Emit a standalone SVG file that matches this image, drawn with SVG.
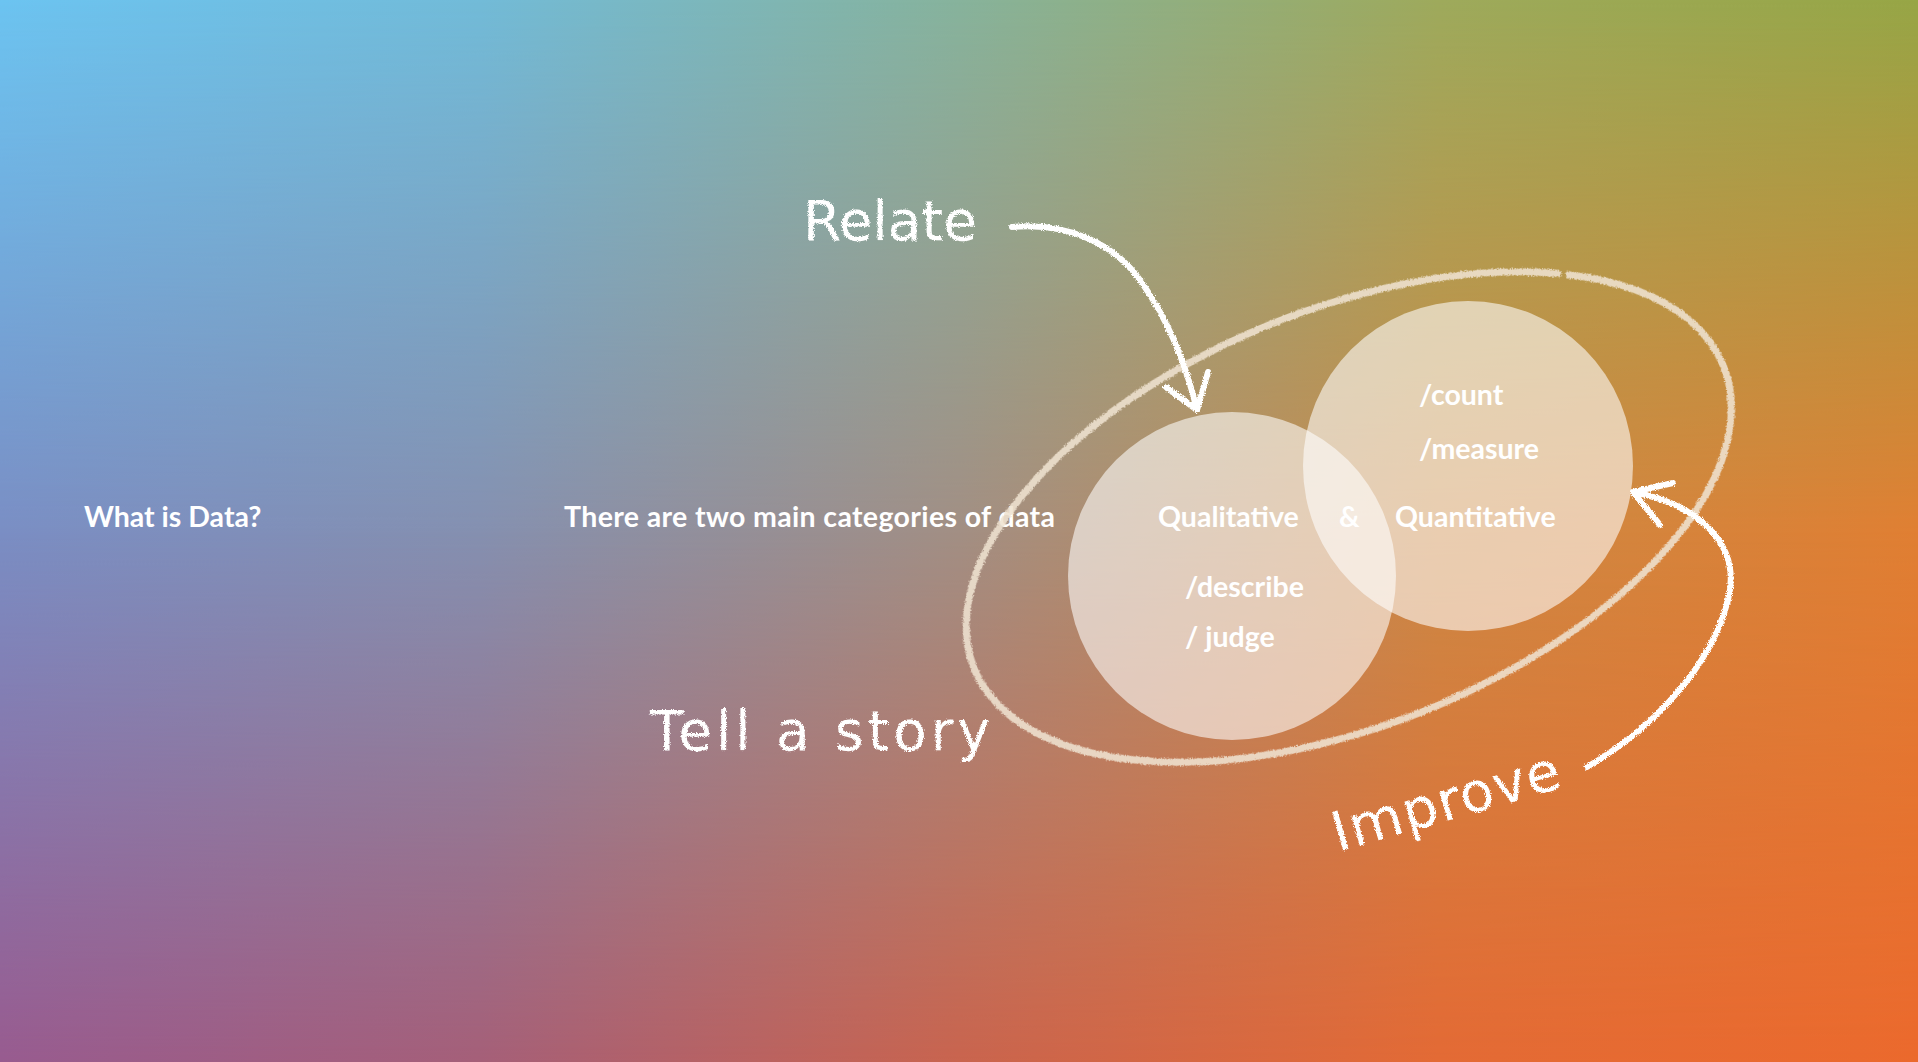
<svg xmlns="http://www.w3.org/2000/svg" width="1918" height="1062" viewBox="0 0 1918 1062">
<defs>
<style>
.t{font-family:Lato,"Source Sans Pro","Open Sans",sans-serif;font-weight:700;font-size:28.5px;fill:#ffffff}
.h{font-family:"DejaVu Sans",sans-serif;font-size:55px;fill:#ffffff}
.chalk{fill:none;stroke:#ffffff;stroke-width:6;stroke-linecap:round;stroke-linejoin:round}
.ring{fill:none;stroke:#efe2d0;stroke-opacity:0.88;stroke-width:7;stroke-linecap:round}
.disc{fill:#ffffff;fill-opacity:0.58}
</style>
<linearGradient id="gTop" x1="0" y1="0" x2="1" y2="0">
<stop offset="0" stop-color="#6cc4f1"/>
<stop offset="0.25" stop-color="#72bbd8"/>
<stop offset="0.5" stop-color="#87b39c"/>
<stop offset="0.75" stop-color="#9eaa5c"/>
<stop offset="1" stop-color="#97a646"/>
</linearGradient>
<linearGradient id="gMid" x1="0" y1="0" x2="1" y2="0">
<stop offset="0" stop-color="#7a8ec4"/>
<stop offset="0.25" stop-color="#8590b0"/>
<stop offset="0.5" stop-color="#a28f84"/>
<stop offset="0.75" stop-color="#cc8944"/>
<stop offset="1" stop-color="#e07f33"/>
</linearGradient>
<linearGradient id="gBot" x1="0" y1="0" x2="1" y2="0">
<stop offset="0" stop-color="#985b8f"/>
<stop offset="0.25" stop-color="#a55f78"/>
<stop offset="0.5" stop-color="#c9644e"/>
<stop offset="0.75" stop-color="#e36a35"/>
<stop offset="1" stop-color="#eb692d"/>
</linearGradient>
<linearGradient id="mMidG" x1="0" y1="0" x2="0" y2="1">
<stop offset="0" stop-color="#000"/>
<stop offset="0.5" stop-color="#fff"/>
<stop offset="1" stop-color="#fff"/>
</linearGradient>
<linearGradient id="mBotG" x1="0" y1="0" x2="0" y2="1">
<stop offset="0" stop-color="#000"/>
<stop offset="0.5" stop-color="#000"/>
<stop offset="1" stop-color="#fff"/>
</linearGradient>
<mask id="mMid" maskUnits="userSpaceOnUse" x="0" y="0" width="1918" height="1062">
<rect x="0" y="0" width="1918" height="1062" fill="url(#mMidG)"/>
</mask>
<mask id="mBot" maskUnits="userSpaceOnUse" x="0" y="0" width="1918" height="1062">
<rect x="0" y="0" width="1918" height="1062" fill="url(#mBotG)"/>
</mask>
<filter id="rough" x="-5%" y="-5%" width="110%" height="110%">
<feTurbulence type="fractalNoise" baseFrequency="0.9" numOctaves="2" seed="3" result="n"/>
<feDisplacementMap in="SourceGraphic" in2="n" scale="4" xChannelSelector="R" yChannelSelector="G"/>
</filter>
</defs>

<g id="background">
<rect x="0" y="0" width="1918" height="1062" fill="url(#gTop)"/>
<rect x="0" y="0" width="1918" height="1062" fill="url(#gMid)" mask="url(#mMid)"/>
<rect x="0" y="0" width="1918" height="1062" fill="url(#gBot)" mask="url(#mBot)"/>
</g>

<g id="what-is-data"><text class="t" x="84" y="527">What is Data?</text></g>
<g id="categories"><text class="t" x="564" y="527" textLength="491" lengthAdjust="spacing">There are two main categories of data</text></g>

<g id="connectors">
<g id="data-loop" transform="translate(1348 517) rotate(-22)" filter="url(#rough)">
<path class="ring" d="M295.5,-141.9 A404,208 0 1 1 285.7,-147.1"/>
</g>
</g>

<g id="qualitative">
<circle class="disc" cx="1232" cy="576" r="164"/>
</g>
<g id="quantitative">
<circle class="disc" cx="1468" cy="466" r="165"/>
</g>

<g id="qualitative-labels">
<text class="t" x="1158" y="527">Qualitative</text>
<text class="t" x="1185" y="597">/describe</text>
<text class="t" x="1185" y="647">/ judge</text>
</g>
<g id="and"><text class="t" x="1339" y="527">&amp;</text></g>
<g id="quantitative-labels">
<text class="t" x="1395" y="527">Quantitative</text>
<text class="t" x="1419" y="405">/count</text>
<text class="t" x="1419" y="459">/measure</text>
</g>

<g id="relate" filter="url(#rough)"><text class="h" x="803" y="240">Relate</text></g>
<g id="tell-a-story" filter="url(#rough)"><text class="h" x="650" y="750" font-size="52" textLength="340" lengthAdjust="spacing">Tell a story</text></g>
<g id="improve" filter="url(#rough)"><text class="h" x="1338" y="852" transform="rotate(-16 1338 852)" textLength="235" lengthAdjust="spacing">Improve</text></g>

<g id="arrows" filter="url(#rough)">
<path class="chalk" d="M1012,227 C1070,222 1115,245 1140,280 C1165,315 1185,360 1197,410"/>
<path class="chalk" d="M1166,387 L1197,410 L1208,372"/>
<path class="chalk" d="M1587,767 C1650,730 1710,670 1728,600 C1742,545 1700,505 1633,492"/>
<path class="chalk" d="M1673,483 L1633,492 L1660,525"/>
</g>
</svg>
